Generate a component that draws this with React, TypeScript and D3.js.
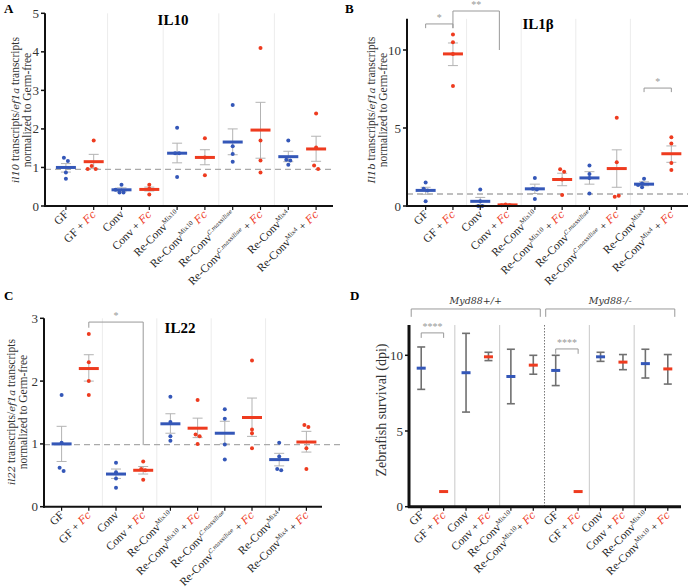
import React from "react";
import * as d3 from "d3";

// ---------- data ----------
const labelsA = ["GF", "GF + Fc", "Conv", "Conv + Fc", "Re-Conv^Mix10", "Re-Conv^Mix10 Fc", "Re-Conv^C.massiliae", "Re-Conv^C.massiliae + Fc", "Re-Conv^Mix4", "Re-Conv^Mix4 + Fc"];
const labelsBC = ["GF", "GF + Fc", "Conv", "Conv + Fc", "Re-Conv^Mix10", "Re-Conv^Mix10 + Fc", "Re-Conv^C.massiliae", "Re-Conv^C.massiliae + Fc", "Re-Conv^Mix4", "Re-Conv^Mix4 + Fc"];
const labelsD = ["GF", "GF + Fc", "Conv", "Conv + Fc", "Re-Conv^Mix10", "Re-Conv^Mix10+ Fc", "GF", "GF + Fc", "Conv", "Conv + Fc", "Re-Conv^Mix10", "Re-Conv^Mix10 + Fc"];

const il10Mean = [1.0, 1.15, 0.42, 0.43, 1.37, 1.26, 1.66, 1.97, 1.28, 1.48];
const il10Lo = [0.88, 0.97, 0.37, 0.39, 1.12, 1.07, 1.33, 1.24, 1.15, 1.16];
const il10Hi = [1.1, 1.34, 0.47, 0.49, 1.63, 1.46, 2.0, 2.69, 1.42, 1.81];
const il10Pts = [[1.25, 1.17, 0.87, 0.71], [1.7, 1.04, 0.96, 0.96], [0.55, 0.35, 0.35, 0.42], [0.55, 0.45, 0.3], [2.03, 1.37, 1.37, 0.75], [1.76, 1.26, 0.8], [2.62, 1.55, 1.35, 1.15], [4.1, 1.7, 1.18, 0.87], [1.7, 1.2, 1.18, 1.07], [2.4, 1.52, 1.05, 0.96]];

const il1bMean = [1.0, 9.75, 0.3, 0.07, 1.1, 1.7, 1.8, 2.4, 1.4, 3.35];
const il1bLo = [0.75, 9.0, 0.05, 0.02, 0.8, 1.3, 1.4, 1.2, 1.3, 2.8];
const il1bHi = [1.2, 10.45, 0.55, 0.12, 1.4, 2.1, 2.2, 3.6, 1.55, 3.85];
const il1bPts = [[1.5, 1.1, 1.0, 0.3], [11.0, 10.5, 9.75, 7.7], [1.05, 0.3, 0.0, 0.0], [0.1, 0.05, 0.05], [1.8, 1.1, 1.05, 0.45], [2.35, 2.2, 1.7, 0.7], [2.6, 2.05, 1.8, 0.8], [5.65, 2.8, 0.6, 0.65], [1.75, 1.45, 1.2, 1.35], [4.4, 4.0, 2.75, 2.3]];

const il22Mean = [1.0, 2.2, 0.52, 0.58, 1.32, 1.25, 1.17, 1.42, 0.75, 1.03];
const il22Lo = [0.72, 2.0, 0.45, 0.52, 1.17, 1.1, 1.0, 1.12, 0.65, 0.87];
const il22Hi = [1.28, 2.42, 0.6, 0.64, 1.48, 1.41, 1.36, 1.73, 0.85, 1.2];
const il22Pts = [[1.78, 1.02, 0.62, 0.57], [2.75, 2.3, 2.0, 1.78], [0.7, 0.55, 0.45, 0.3], [0.72, 0.6, 0.58, 0.43], [1.75, 1.35, 1.12, 1.05], [1.7, 1.15, 1.12, 1.0], [1.55, 1.4, 0.99, 0.75], [2.33, 1.23, 1.17, 0.93], [1.02, 0.8, 0.6, 0.58], [1.3, 1.27, 0.93, 0.6]];

const survMean = [9.15, 1.0, 8.85, 9.9, 8.6, 9.35, 9.0, 1.0, 9.9, 9.55, 9.45, 9.1];
const survLo = [7.75, 1.0, 6.25, 9.65, 6.8, 8.75, 8.0, 1.0, 9.6, 9.05, 8.5, 8.1];
const survHi = [10.55, 1.0, 11.45, 10.2, 10.4, 10.0, 10.0, 1.0, 10.2, 10.05, 10.4, 10.05];

const refA = 0.95, refB = 0.77, refC = 0.99;

// brackets: [fromIndex, toIndex, barValue, leftLegEnd, rightLegEnd, label]
const bracketsB: [number, number, number, number, number, string][] = [
  [0, 1, 11.67, 11.4, 11.4, "*"],
  [1, 2.7, 12.5, 11.4, 10.0, "**"],
  [8, 9, 7.56, 7.3, 7.3, "*"],
];
const bracketsC: [number, number, number, number, number, string][] = [
  [1, 3, 2.94, 2.85, 0.98, "*"],
];
const bracketsD: [number, number, number, number, number, string][] = [
  [0, 1, 11.48, 11.15, 11.15, "****"],
  [6, 7, 10.42, 10.1, 10.1, "****"],
];
const groupsD: [number, number, string][] = [
  [0, 5, "Myd88+/+"],
  [6, 11, "Myd88-/-"],
];

const BLUE = "#3457b8";
const RED = "#ee3b1f";
const SERIF = "Liberation Serif";
const ITAL = "DejaVu Serif";

function XLabel({ x, y, label, fs = 11.5 }: { x: number; y: number; label: string; fs?: number }) {
  let base = label;
  let fc = false;
  let plus = "";
  let sup = "";
  if (base.endsWith("Fc")) {
    fc = true;
    base = base.slice(0, -2);
    if (base.endsWith(" + ")) { plus = " + "; base = base.slice(0, -3); }
    else if (base.endsWith("+ ")) { plus = "+ "; base = base.slice(0, -2); }
    else if (base.endsWith(" ")) { plus = " "; base = base.slice(0, -1); }
  }
  if (base.includes("^")) {
    const parts = base.split("^");
    base = parts[0];
    sup = parts[1];
  }
  const supItal = sup.startsWith("C.");
  return (
    <text transform={`translate(${x},${y}) rotate(-45)`} textAnchor="end" fill="#222" style={{ whiteSpace: "pre", fontFamily: SERIF, fontSize: fs }}>
      <tspan>{base}</tspan>
      {sup && <tspan dy={-fs * 0.38} style={supItal ? { fontSize: fs * 0.5, fontStyle: "italic", fontFamily: ITAL } : { fontSize: fs * 0.58 }}>{sup}</tspan>}
      {fc && <tspan dy={sup ? fs * 0.38 : 0}>{plus}</tspan>}
      {fc && <tspan fill={RED} style={{ fontStyle: "italic", fontFamily: ITAL, fontSize: fs * 0.92 }}>Fc</tspan>}
    </text>
  );
}

type PanelProps = {
  letter: string; lx: number; ly: number;
  title?: string; tx?: number; ty?: number;
  axisX: number; axisRight: number; x0: number; x1: number;
  y0: number; yTopPx: number; yMax: number; yTick: number; yTop: number;
  labels: string[];
  mean: number[]; lo: number[]; hi: number[]; pts?: number[][];
  refLine?: number; refRight?: number;
  brackets: [number, number, number, number, number, string][];
  ylab: React.ReactNode;
  survival?: boolean;
  seps: { i: number; dotted?: boolean }[];
};

function Panel(p: PanelProps) {
  const y = d3.scaleLinear().domain([0, p.yMax]).range([p.y0, p.yTopPx]);
  const idx = p.labels.map((_, i) => i);
  const x = d3.scaleBand<number>().domain(idx).range([p.x0, p.x1]);
  const step = x.step();
  const cx = (i: number) => p.x0 + (i + 0.5) * step;
  const ticks = d3.range(0, p.yTop + 1e-9, p.yTick);
  const colorOf = (i: number) => (i % 2 === 0 ? BLUE : RED);
  const sv = !!p.survival;
  const meanW = sv ? 9 : 20;
  const capW = sv ? 8 : 10;
  const errCol = sv ? "#707070" : "#b3b3b3";
  const errSW = sv ? 1.6 : 1;
  return (
    <g>
      <text x={p.lx} y={p.ly} style={{ fontFamily: SERIF, fontWeight: "bold", fontSize: 13 }}>{p.letter}</text>
      {p.title && <text x={p.tx} y={p.ty} textAnchor="middle" style={{ fontFamily: SERIF, fontWeight: "bold", fontSize: 15 }}>{p.title}</text>}
      {p.seps.map((s, k) => (
        <line key={k} x1={p.x0 + s.i * step} x2={p.x0 + s.i * step} y1={y(p.yTop)} y2={p.y0}
          stroke={s.dotted ? "#777" : sv ? "#c8c8c8" : "#ececec"} strokeWidth={1} strokeDasharray={s.dotted ? "1.5,1.5" : undefined} />
      ))}
      {p.refLine !== undefined && (
        <line x1={p.axisX} x2={p.refRight ?? p.axisRight} y1={y(p.refLine)} y2={y(p.refLine)} stroke="#aaa" strokeWidth={1.3} strokeDasharray="6,4" />
      )}
      {idx.map(i => {
        if (p.hi[i] - p.lo[i] < 0.01) return null;
        return (
          <g key={"e" + i} stroke={errCol} strokeWidth={errSW}>
            <line x1={cx(i)} x2={cx(i)} y1={y(p.lo[i])} y2={y(p.hi[i])} />
            <line x1={cx(i) - capW / 2} x2={cx(i) + capW / 2} y1={y(p.lo[i])} y2={y(p.lo[i])} />
            <line x1={cx(i) - capW / 2} x2={cx(i) + capW / 2} y1={y(p.hi[i])} y2={y(p.hi[i])} />
          </g>
        );
      })}
      {p.pts && p.pts.map((arr, i) => arr.map((v, j) => {
        const dup = arr.slice(0, j).filter(w => Math.abs(y(w) - y(v)) < 3.5).length;
        const off = dup === 0 ? 0 : (dup % 2 === 1 ? 4 : -4);
        const total = arr.filter(w => Math.abs(y(w) - y(v)) < 3.5).length;
        const o2 = total > 1 ? off - 2 : 0;
        return <circle key={`p${i}-${j}`} cx={cx(i) + o2} cy={y(v)} r={2} fill={colorOf(i)} />;
      }))}
      {idx.map(i => (
        <line key={"m" + i} x1={cx(i) - meanW / 2} x2={cx(i) + meanW / 2} y1={y(p.mean[i])} y2={y(p.mean[i])} stroke={colorOf(i)} strokeWidth={3} />
      ))}
      <line x1={p.axisX} x2={p.axisX} y1={y(p.yTop)} y2={p.y0 + 1} stroke="#111" strokeWidth={sv ? 3 : 2} />
      <line x1={p.axisX - 1} x2={p.axisRight} y1={p.y0} y2={p.y0} stroke="#111" strokeWidth={sv ? 3 : 2} />
      {ticks.filter(t => t <= p.yMax + 1e-9).map(t => (
        <g key={"t" + t}>
          <line x1={p.axisX - 4} x2={p.axisX} y1={y(t)} y2={y(t)} stroke="#111" strokeWidth={1.5} />
          <text x={p.axisX - 6} y={y(t) + 4.5} textAnchor="end" fill="#333" style={{ fontFamily: SERIF, fontSize: 13 }}>{t}</text>
        </g>
      ))}
      {idx.map(i => (
        <line key={"xt" + i} x1={cx(i)} x2={cx(i)} y1={p.y0} y2={p.y0 + 4} stroke="#111" strokeWidth={1.2} />
      ))}
      {p.labels.map((l, i) => <XLabel key={"xl" + i} x={cx(i) + 3} y={p.y0 + 9} label={l} />)}
      {p.brackets.map(([a, b, v, la, rb, lab], k) => {
        const xa = cx(a), xb = cx(b);
        return (
          <g key={"b" + k}>
            <path d={`M${xa},${y(la)}V${y(v)}H${xb}V${y(rb)}`} fill="none" stroke="#999" strokeWidth={1} />
            <text x={(xa + xb) / 2} y={y(v) - 3} textAnchor="middle" fill="#999" style={{ fontFamily: SERIF, fontSize: 10 }}>{lab}</text>
          </g>
        );
      })}
      {p.ylab}
    </g>
  );
}

function YLab2({ x, y, name }: { x: number; y: number; name: string }) {
  const it = { fontStyle: "italic", fontFamily: ITAL, fontSize: 10 };
  return (
    <text transform={`translate(${x},${y}) rotate(-90)`} textAnchor="middle" fill="#333" style={{ fontFamily: SERIF, fontSize: 11.5 }}>
      <tspan x={0} dy={0}><tspan style={it}>{name}</tspan> transcripts/<tspan style={it}>ef1a</tspan> transcripts</tspan>
      <tspan x={0} dy={12}>normalized to Germ-free</tspan>
    </text>
  );
}

export default function App() {
  const sepsABC = [{ i: 2 }, { i: 4 }, { i: 6 }, { i: 8 }];
  const sepsD = [{ i: 2 }, { i: 4 }, { i: 6, dotted: true }, { i: 8 }, { i: 10 }];
  const yD = d3.scaleLinear().domain([0, 10]).range([506.7, 355.3]);
  const stepD = (679 - 410) / 12;
  const cxD = (i: number) => 410 + (i + 0.5) * stepD;
  return (
    <div style={{ position: "fixed", left: 0, top: 0 }}>
      <svg width={699} height={587} style={{ display: "block", background: "#fff", fontFamily: SERIF }}>
        <Panel letter="A" lx={4} ly={13} title="IL10" tx={173} ty={25}
          axisX={45} axisRight={333} x0={52} x1={330} y0={206} yTopPx={13.3} yMax={5} yTick={1} yTop={5}
          labels={labelsA} mean={il10Mean} lo={il10Lo} hi={il10Hi} pts={il10Pts} refLine={refA}
          brackets={[]} seps={sepsABC}
          ylab={<YLab2 x={19} y={110} name="il10" />} />
        <Panel letter="B" lx={345} ly={13} title="IL1β" tx={538} ty={29}
          axisX={407} axisRight={688} x0={412} x1={685} y0={206} yTopPx={50} yMax={10} yTick={5} yTop={12}
          labels={labelsBC} mean={il1bMean} lo={il1bLo} hi={il1bHi} pts={il1bPts} refLine={refB}
          brackets={bracketsB} seps={sepsABC}
          ylab={<YLab2 x={375} y={110} name="Il1b" />} />
        <Panel letter="C" lx={4} ly={300} title="IL22" tx={180} ty={333}
          axisX={44} axisRight={322} x0={48} x1={320} y0={506.7} yTopPx={318.3} yMax={3} yTick={1} yTop={3}
          labels={labelsBC} mean={il22Mean} lo={il22Lo} hi={il22Hi} pts={il22Pts} refLine={refC} refRight={343}
          brackets={bracketsC} seps={sepsABC}
          ylab={<YLab2 x={15} y={412} name="il22" />} />
        <Panel letter="D" lx={350} ly={300}
          axisX={409} axisRight={681} x0={410} x1={679} y0={506.7} yTopPx={355.3} yMax={10} yTick={5} yTop={12}
          labels={labelsD} mean={survMean} lo={survLo} hi={survHi}
          brackets={bracketsD} seps={sepsD} survival
          ylab={<text transform="translate(386,410) rotate(-90)" textAnchor="middle" fill="#333" style={{ fontFamily: SERIF, fontSize: 14 }}>Zebrafish survival (dpi)</text>} />
        {groupsD.map(([a, b, lab], k) => {
          const xa = cxD(a) - 10, xb = cxD(b) + 7;
          return (
            <g key={"g" + k}>
              <path d={`M${xa},${yD(12.54)}V${yD(13.06)}H${xb}V${yD(12.54)}`} fill="none" stroke="#999" strokeWidth={1} />
              <text x={(xa + xb) / 2} y={yD(13.06) - 5} textAnchor="middle" fill="#333" style={{ fontFamily: ITAL, fontSize: 9.5, fontStyle: "italic" }}>{lab}</text>
            </g>
          );
        })}
      </svg>
    </div>
  );
}
